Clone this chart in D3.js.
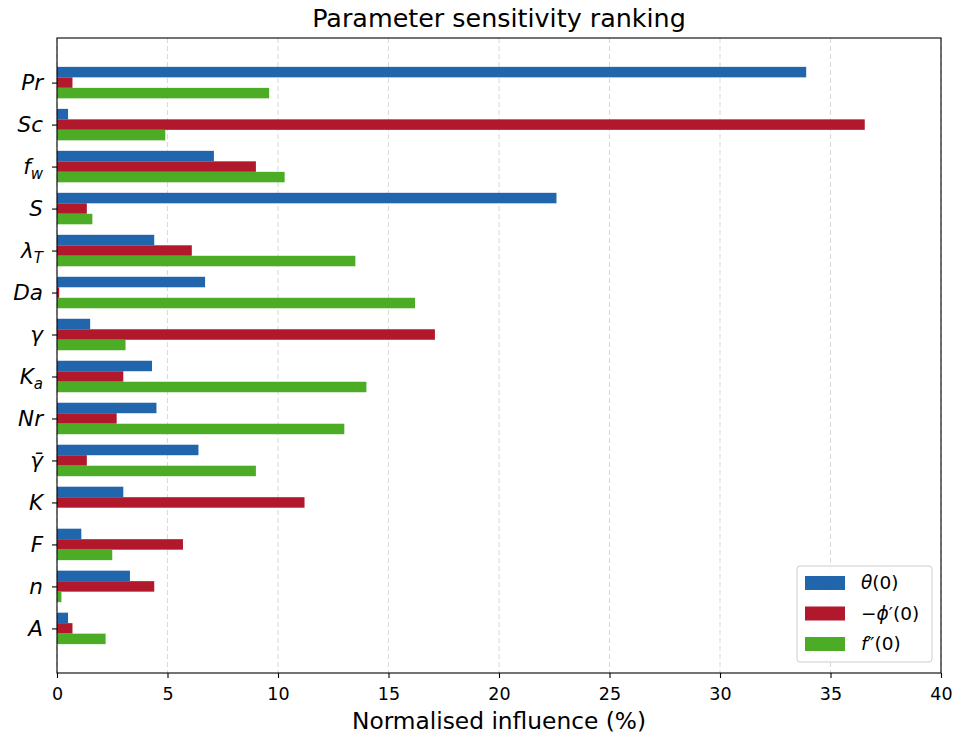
<!DOCTYPE html>
<html>
<head>
<meta charset="utf-8">
<script src="https://cdn.jsdelivr.net/npm/d3@7"></script>
<style>
  body { margin: 0; background: #fff; }
  text { font-family: "DejaVu Sans", sans-serif; }
</style>
</head>
<body>
<div id="chart"></div>
<script>
// parameters, top to bottom; label parts [main, subscript]
var params = [["Pr",""],["Sc",""],["f","w"],["S",""],["λ","T"],["Da",""],["γ",""],
              ["K","a"],["Nr",""],["γ\u0304",""],["K",""],["F",""],["n",""],["A",""]];
var theta0   = [33.9, 0.5, 7.1, 22.6, 4.4, 6.7, 1.5, 4.3, 4.5, 6.4, 3.0, 1.1, 3.3, 0.5];
var phiPrime = [0.7, 36.55, 9.0, 1.35, 6.1, 0.1, 17.1, 3.0, 2.7, 1.35, 11.2, 5.7, 4.4, 0.7];
var fpp0     = [9.6, 4.9, 10.3, 1.6, 13.5, 16.2, 3.1, 14.0, 13.0, 9.0, 0.0, 2.5, 0.2, 2.2];
var xTicks = [0, 5, 10, 15, 20, 25, 30, 35, 40];

var series = [
  {name: "theta", values: theta0,   color: "#2166ac", off: -0.25},
  {name: "phi",   values: phiPrime, color: "#b2182b", off: 0},
  {name: "fpp",   values: fpp0,     color: "#4dac26", off: 0.25}
];

var W = 955, H = 736;
var margin = {top: 38, right: 14, bottom: 63, left: 57};
var iw = W - margin.left - margin.right, ih = H - margin.top - margin.bottom;

var svg = d3.select("#chart").append("svg")
    .attr("width", W).attr("height", H);
var g = svg.append("g").attr("transform", "translate(" + margin.left + "," + margin.top + ")");

var x = d3.scaleLinear().domain([0, 40]).range([0, iw]);
// category positions 0..13 with matplotlib style 5% padding
var n = params.length;
var pad = 0.05 * (n - 1 + 0.75);
var y = d3.scaleLinear().domain([-0.375 - pad, n - 1 + 0.375 + pad]).range([0, ih]);
var barH = y(0.25) - y(0);

// grid
g.selectAll(".grid").data(xTicks).enter().append("line")
    .attr("x1", d => x(d)).attr("x2", d => x(d))
    .attr("y1", 0).attr("y2", ih)
    .attr("stroke", "#b0b0b0").attr("stroke-opacity", 0.45)
    .attr("stroke-width", 1.1).attr("stroke-dasharray", "5,3");

// bars
series.forEach(function(s) {
  g.selectAll(".bar-" + s.name).data(s.values).enter().append("rect")
      .attr("x", x(0))
      .attr("y", (d, i) => y(i + s.off) - barH / 2)
      .attr("width", d => x(d) - x(0))
      .attr("height", barH)
      .attr("fill", s.color);
});

// frame
g.append("rect").attr("width", iw).attr("height", ih)
    .attr("fill", "none").attr("stroke", "#000").attr("stroke-width", 1.1);

// x axis
var xAxis = g.append("g").attr("transform", "translate(0," + ih + ")")
    .call(d3.axisBottom(x).tickValues(xTicks).tickSize(5).tickPadding(10).tickFormat(d3.format("d")));
xAxis.select(".domain").remove();
xAxis.selectAll("text").attr("font-size", 17.5).attr("fill", "#000")
    .style("font-family", "DejaVu Sans");
xAxis.selectAll("line").attr("stroke", "#000").attr("stroke-width", 1.1);

// y axis
var yAxis = g.append("g")
    .call(d3.axisLeft(y).tickValues(d3.range(n)).tickSize(5).tickPadding(6).tickFormat(""));
yAxis.select(".domain").remove();
yAxis.selectAll("line").attr("stroke", "#000").attr("stroke-width", 1.1);

var ylab = g.selectAll(".ylab").data(params).enter().append("text")
    .attr("x", -14).attr("y", (d, i) => y(i))
    .attr("dy", "0.35em")
    .attr("text-anchor", "end")
    .attr("font-size", 21.5)
    .attr("font-style", "italic");
ylab.each(function(d) {
  var t = d3.select(this);
  t.append("tspan").text(d[0]);
  if (d[1]) t.append("tspan").attr("font-size", 15).attr("dy", "0.3em").text(d[1]);
});

// title and axis label
svg.append("text").attr("x", margin.left + iw / 2).attr("y", 27)
    .attr("text-anchor", "middle").attr("font-size", 25.4).text("Parameter sensitivity ranking");
svg.append("text").attr("x", margin.left + iw / 2).attr("y", 729)
    .attr("text-anchor", "middle").attr("font-size", 23.3).text("Normalised influence (%)");

// legend
var lg = g.append("g").attr("transform", "translate(" + (iw - 144) + "," + (ih - 107) + ")");
lg.append("rect").attr("width", 135).attr("height", 96).attr("rx", 3)
    .attr("fill", "#fff").attr("fill-opacity", 0.8)
    .attr("stroke", "#cccccc").attr("stroke-width", 1);
var legLabels = [
  [["θ", true], ["(0)", false]],
  [["−", false], ["ϕ", true], ["′", false], ["(0)", false]],
  [["f", true], ["″", false], ["(0)", false]]
];
series.forEach(function(s, i) {
  var yy = 10 + i * 30.5;
  lg.append("rect").attr("x", 8).attr("y", yy).attr("width", 40).attr("height", 14).attr("fill", s.color);
  var t = lg.append("text").attr("x", 64).attr("y", yy + 7).attr("dy", "0.35em").attr("font-size", 18.5);
  legLabels[i].forEach(function(p) {
    t.append("tspan").attr("font-style", p[1] ? "italic" : "normal").text(p[0]);
  });
});
</script>
</body>
</html>
